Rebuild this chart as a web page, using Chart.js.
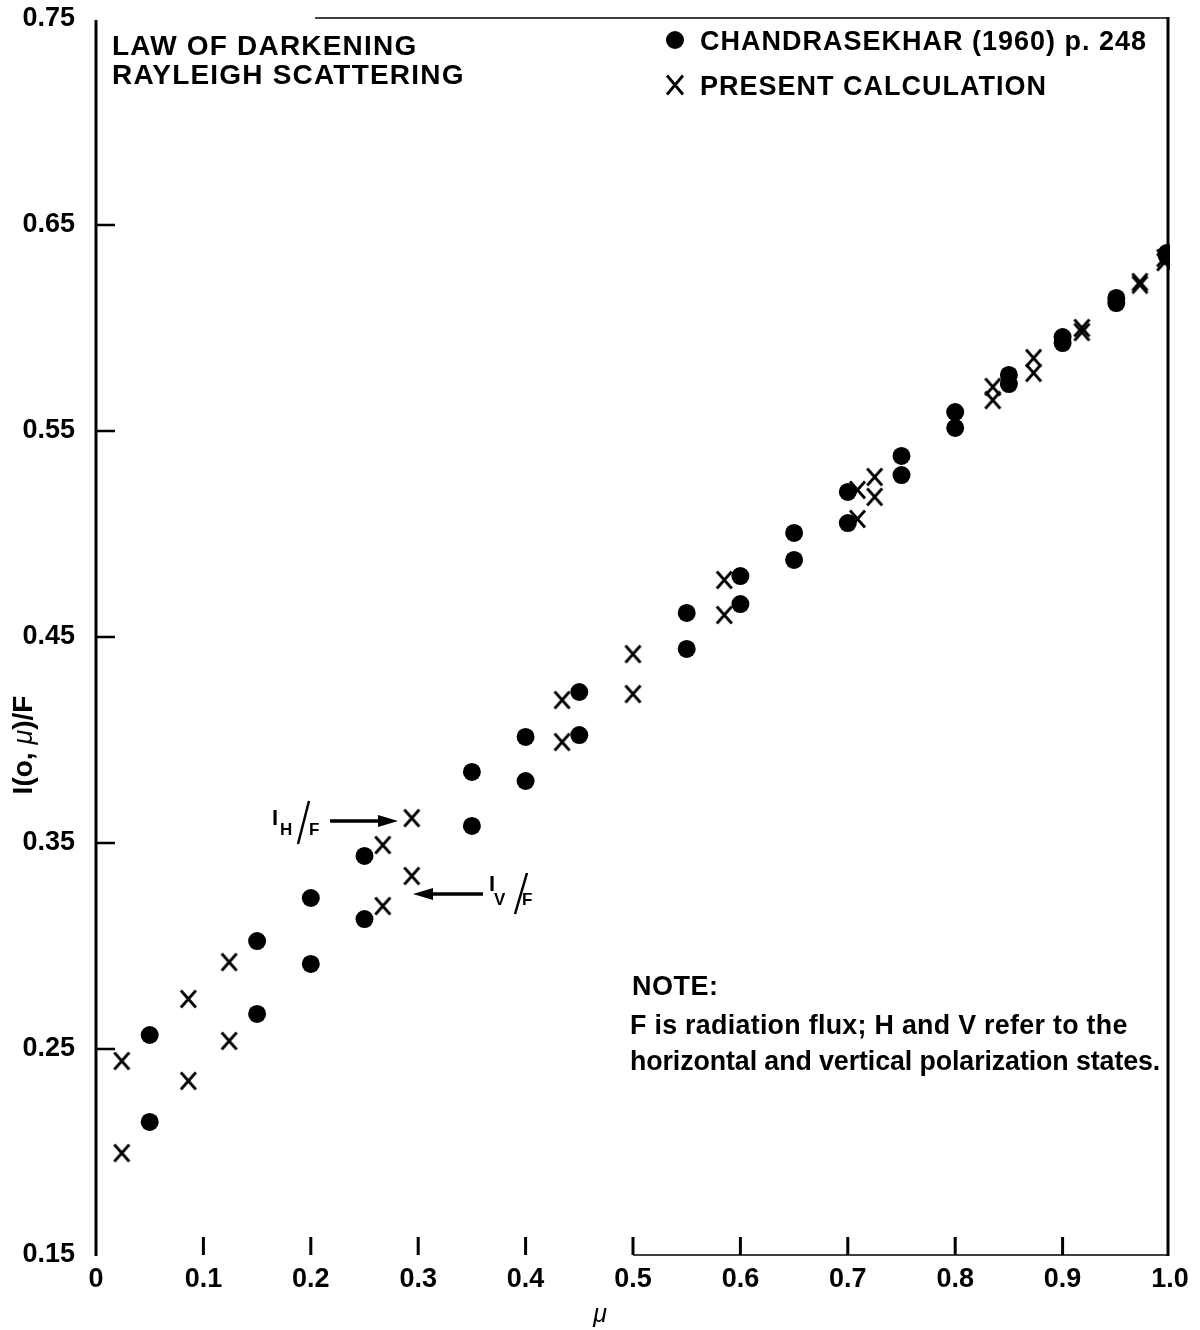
<!DOCTYPE html>
<html lang="en">
<head>
<meta charset="UTF-8">
<title>Law of Darkening - Rayleigh Scattering</title>
<script src="https://cdn.jsdelivr.net/npm/chart.js"></script>
<style>
    html, body { margin: 0; padding: 0; background: #fff; }
    #wrap { width: 1200px; height: 1330px; }
</style>
</head>
<body>
<div id="wrap"><canvas id="darkening" width="1200" height="1330"></canvas></div>
<script>
// Chandrasekhar (1960) p. 248 - two values (H upper, V lower) at each mu
var chandraMu = [0.05, 0.15, 0.2, 0.25, 0.35, 0.4, 0.45, 0.55, 0.6, 0.65, 0.7, 0.75, 0.8, 0.85, 0.9, 0.95, 0.997];
var chandraH  = [0.2568, 0.3024, 0.3233, 0.3437, 0.3845, 0.4015, 0.4233, 0.4617, 0.4796, 0.5005, 0.5204, 0.5379, 0.5592, 0.5772, 0.5956, 0.6146, 0.6364];
var chandraV  = [0.2146, 0.2670, 0.2913, 0.3131, 0.3583, 0.3801, 0.4024, 0.4442, 0.4660, 0.4874, 0.5053, 0.5286, 0.5515, 0.5728, 0.5927, 0.6121, 0.6350];

// present calculation
var presentMu = [0.024, 0.086, 0.124, 0.267, 0.294, 0.434, 0.5, 0.585, 0.709, 0.725, 0.835, 0.873, 0.918, 0.972, 0.995];
var presentH  = [0.2442, 0.2743, 0.2922, 0.3490, 0.3621, 0.4194, 0.4417, 0.4777, 0.5214, 0.5277, 0.5714, 0.5854, 0.6000, 0.6223, 0.6340];
var presentV  = [0.1995, 0.2345, 0.2539, 0.3194, 0.3340, 0.3990, 0.4223, 0.4607, 0.5073, 0.5180, 0.5650, 0.5782, 0.5980, 0.6210, 0.6320];

var xTicks = [0, 0.1, 0.2, 0.3, 0.4, 0.5, 0.6, 0.7, 0.8, 0.9, 1.0];
var yTicks = [0.15, 0.25, 0.35, 0.45, 0.55, 0.65, 0.75];

var legendLabels = ['CHANDRASEKHAR (1960) p. 248', 'PRESENT CALCULATION'];

var FONT = "'Liberation Sans', Arial, Helvetica, sans-serif";

function pairs(xs, ys) {
    return xs.map(function (x, i) { return { x: x, y: ys[i] }; });
}

// letter-like X marker
function makeCross(w, h) {
    var c = document.createElement('canvas');
    c.width = w; c.height = h;
    var g = c.getContext('2d');
    g.strokeStyle = '#000';
    g.lineWidth = 2.8;
    g.beginPath();
    g.moveTo(2, 1.5); g.lineTo(w - 2, h - 1.5);
    g.moveTo(w - 2, 1.5); g.lineTo(2, h - 1.5);
    g.stroke();
    return c;
}
var crossMark = makeCross(19, 20);
var legendCross = makeCross(20, 22);

function text(ctx, str, x, y, font, align, spacing) {
    ctx.font = font;
    ctx.textAlign = align || 'left';
    ctx.letterSpacing = spacing || '0px';
    ctx.fillText(str, x, y);
    ctx.letterSpacing = '0px';
}

function arrow(ctx, x1, x2, y) {
    // head at x2
    var dir = x2 > x1 ? 1 : -1;
    ctx.lineWidth = 3.5;
    ctx.beginPath();
    ctx.moveTo(x1, y);
    ctx.lineTo(x2 - dir * 14, y);
    ctx.stroke();
    ctx.beginPath();
    ctx.moveTo(x2, y);
    ctx.lineTo(x2 - dir * 20, y - 6);
    ctx.lineTo(x2 - dir * 20, y + 6);
    ctx.closePath();
    ctx.fill();
}

function noPadding(s) {
    s.paddingTop = 0; s.paddingBottom = 0;
    s.paddingLeft = 0; s.paddingRight = 0;
}

var decorations = {
    id: 'decorations',
    afterDraw: function (chart) {
        var ctx = chart.ctx;
        var xs = chart.scales.x, ys = chart.scales.y;
        var a = chart.chartArea;
        ctx.save();
        ctx.fillStyle = '#000';
        ctx.strokeStyle = '#000';
        ctx.textBaseline = 'alphabetic';

        // frame: full left and right, partial top and bottom
        ctx.lineWidth = 3;
        ctx.beginPath();
        ctx.moveTo(a.left, a.top + 1); ctx.lineTo(a.left, a.bottom + 1);
        ctx.moveTo(a.right - 2, a.top - 2); ctx.lineTo(a.right - 2, a.bottom + 1);
        ctx.stroke();
        ctx.lineWidth = 1.5;
        ctx.beginPath();
        ctx.moveTo(xs.getPixelForValue(0.204), a.top - 1); ctx.lineTo(a.right - 2, a.top - 1);
        ctx.moveTo(xs.getPixelForValue(0.5), a.bottom); ctx.lineTo(a.right - 2, a.bottom);
        ctx.stroke();

        // inward ticks
        ctx.lineWidth = 3;
        ctx.beginPath();
        xTicks.slice(1, -1).forEach(function (v) {
            var px = xs.getPixelForValue(v);
            ctx.moveTo(px, a.bottom); ctx.lineTo(px, a.bottom - 18);
        });
        ctx.stroke();
        ctx.lineWidth = 2.5;
        ctx.beginPath();
        yTicks.slice(1, -1).forEach(function (v) {
            var py = ys.getPixelForValue(v);
            ctx.moveTo(a.left, py); ctx.lineTo(a.left + 19, py);
        });
        ctx.stroke();

        // heading
        text(ctx, 'LAW OF DARKENING', 112, 55, 'bold 28px ' + FONT, 'left', '1.2px');
        text(ctx, 'RAYLEIGH SCATTERING', 112, 84, 'bold 28px ' + FONT, 'left', '1.2px');

        // legend
        ctx.beginPath();
        ctx.arc(675, 40, 9, 0, Math.PI * 2);
        ctx.fill();
        text(ctx, legendLabels[0], 700, 50, 'bold 27px ' + FONT, 'left', '1px');
        ctx.drawImage(legendCross, 665, 74);
        text(ctx, legendLabels[1], 700, 95, 'bold 27px ' + FONT, 'left', '1px');

        // note
        text(ctx, 'NOTE:', 632, 995, 'bold 27px ' + FONT, 'left', '0.5px');
        text(ctx, 'F is radiation flux; H and V refer to the', 630, 1034, 'bold 26.8px ' + FONT, 'left', '0.3px');
        text(ctx, 'horizontal and vertical polarization states.', 630, 1070, 'bold 26.8px ' + FONT, 'left', '-0.1px');

        // I_H/F annotation
        text(ctx, 'I', 272, 825, 'bold 22px ' + FONT);
        text(ctx, 'H', 280, 835, 'bold 17px ' + FONT);
        text(ctx, 'F', 309, 835, 'bold 17px ' + FONT);
        ctx.lineWidth = 2.5;
        ctx.beginPath(); ctx.moveTo(298, 844); ctx.lineTo(309, 801); ctx.stroke();
        arrow(ctx, 330, 398, 821);

        // I_V/F annotation
        text(ctx, 'I', 489, 891, 'bold 22px ' + FONT);
        text(ctx, 'V', 494, 905, 'bold 17px ' + FONT);
        text(ctx, 'F', 522, 905, 'bold 17px ' + FONT);
        ctx.lineWidth = 2.5;
        ctx.beginPath(); ctx.moveTo(515, 914); ctx.lineTo(527, 873); ctx.stroke();
        arrow(ctx, 483, 413, 894);

        // y axis title, rotated
        ctx.save();
        ctx.translate(32, 745);
        ctx.rotate(-Math.PI / 2);
        var parts = [['I(o, ', 'bold 28px ' + FONT], ['\u03bc', 'italic 27px ' + FONT], [')/F', 'bold 28px ' + FONT]];
        var total = 0;
        parts.forEach(function (p) { ctx.font = p[1]; total += ctx.measureText(p[0]).width; });
        var cx = -total / 2;
        parts.forEach(function (p) {
            ctx.font = p[1];
            ctx.textAlign = 'left';
            ctx.fillText(p[0], cx, 0);
            cx += ctx.measureText(p[0]).width;
        });
        ctx.restore();

        // x axis title
        text(ctx, '\u03bc', 600, 1322, 'italic 25px ' + FONT, 'center');

        ctx.restore();
    }
};

var ctx = document.getElementById('darkening').getContext('2d');
var chart = new Chart(ctx, {
    type: 'scatter',
    data: {
        datasets: [
            {
                label: legendLabels[0] + ' H',
                data: pairs(chandraMu, chandraH),
                pointStyle: 'circle', pointRadius: 9,
                backgroundColor: '#000', borderWidth: 0
            },
            {
                label: legendLabels[0] + ' V',
                data: pairs(chandraMu, chandraV),
                pointStyle: 'circle', pointRadius: 9,
                backgroundColor: '#000', borderWidth: 0
            },
            {
                label: legendLabels[1] + ' H',
                data: pairs(presentMu, presentH),
                pointStyle: crossMark, pointRadius: 9
            },
            {
                label: legendLabels[1] + ' V',
                data: pairs(presentMu, presentV),
                pointStyle: crossMark, pointRadius: 9
            }
        ]
    },
    options: {
        responsive: false,
        animation: false,
        devicePixelRatio: 1,
        layout: { padding: { left: 0, right: 30, top: 19, bottom: 0 } },
        plugins: {
            legend: { display: false },
            tooltip: { enabled: false }
        },
        scales: {
            x: {
                type: 'linear',
                min: 0, max: 1,
                grid: { display: false },
                border: { display: false },
                afterBuildTicks: function (s) { s.ticks = xTicks.map(function (v) { return { value: v }; }); },
                afterFit: function (s) { s.height = 75; noPadding(s); },
                ticks: {
                    autoSkip: false, maxRotation: 0, padding: 0,
                    color: '#000',
                    font: { family: FONT, size: 27, weight: 'bold' },
                    callback: function (v) { return v === 0 ? '0' : Number(v).toFixed(1); }
                }
            },
            y: {
                type: 'linear',
                min: 0.15, max: 0.75,
                grid: { display: false },
                border: { display: false },
                afterBuildTicks: function (s) { s.ticks = yTicks.map(function (v) { return { value: v }; }); },
                afterFit: function (s) { s.width = 96; noPadding(s); },
                ticks: {
                    autoSkip: false, padding: 13,
                    color: '#000',
                    font: { family: FONT, size: 27, weight: 'bold' },
                    callback: function (v) { return Number(v).toFixed(2); }
                }
            }
        }
    },
    plugins: [decorations]
});
</script>
</body>
</html>
